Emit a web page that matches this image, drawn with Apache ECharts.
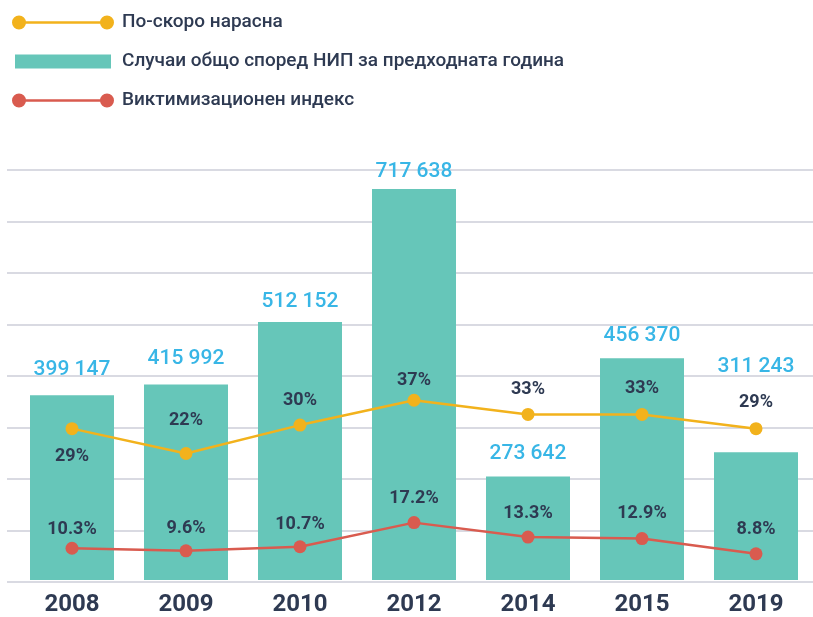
<!DOCTYPE html>
<html>
<head>
<meta charset="utf-8">
<script src="https://cdn.jsdelivr.net/npm/echarts@6/dist/echarts.min.js"></script>
<style>html,body{margin:0;padding:0;background:#fff}#c{width:813px;height:617px}</style>
</head>
<body>
<div id="c"></div>
<script>
var years = ['2008', '2009', '2010', '2012', '2014', '2015', '2019'];
var cases = [399147, 415992, 512152, 717638, 273642, 456370, 311243];
var growth = [29, 22, 30, 37, 33, 33, 29];
var victim = [10.3, 9.6, 10.7, 17.2, 13.3, 12.9, 8.8];
var seriesNames = ['По-скоро нараснa'.replace('a', 'а'), 'Случаи общо според НИП за предходната година', 'Виктимизационен индекс'];

// label placement (style only)
var barLabelGap = [15.5, 15.5, 10, 7, 12, 11.5, 74.5];
var growthLabelGap = [12.5, 17.5, 9.5, 4, 9.5, 10.5, 10.5];
var victimLabelGap = [3.5, 7, 7, 9, 8, 9.5, 8.5];

var FONT = 'Roboto, "DejaVu Sans Condensed", sans-serif';
var DARK = '#2e3a52';
var YEL = '#f2b21c';
var RED = '#d95b4f';
var TEAL = '#66c6b9';
var BLUE = '#38b6e6';

function fmtThousands(v) {
  return String(v).replace(/\B(?=(\d{3})+(?!\d))/g, ' ');
}

var lineIcon = 'path://M0,7 A7,7 0 1,1 14,7 A7,7 0 1,1 0,7 Z M88,7 A7,7 0 1,1 102,7 A7,7 0 1,1 88,7 Z M7,5.8 L95,5.8 L95,8.2 L7,8.2 Z';

var barData = cases.map(function (v, i) {
  return { value: v, label: { distance: barLabelGap[i] } };
});
var growthData = growth.map(function (v, i) {
  var d = { value: v, label: { distance: growthLabelGap[i] } };
  if (i === 0) d.label.position = 'bottom';
  return d;
});
var victimData = victim.map(function (v, i) {
  return { value: v, label: { distance: victimLabelGap[i] } };
});

var chart = echarts.init(document.getElementById('c'));
chart.setOption({
  animation: false,
  textStyle: { fontFamily: FONT },
  legend: {
    orient: 'vertical',
    left: 7,
    top: 8,
    padding: [5, 5, 5, 5],
    itemGap: 20,
    itemWidth: 102,
    itemHeight: 14,
    selectedMode: false,
    textStyle: { fontFamily: FONT, fontSize: 19, color: DARK, fontWeight: 500, padding: [0, 0, 0, 3] },
    data: [
      { name: seriesNames[0], icon: lineIcon },
      { name: seriesNames[1], icon: 'path://M1,0 L97,0 L97,14 L1,14 Z' },
      { name: seriesNames[2], icon: lineIcon }
    ]
  },
  grid: [
    { left: 7, right: 0, top: 170, height: 412 },
    { left: 15, width: 799, top: 170, height: 412 }
  ],
  xAxis: [
    { gridIndex: 0, type: 'value', min: 0, max: 1, show: false },
    {
      gridIndex: 1, type: 'category', data: years,
      axisLine: { show: false }, axisTick: { show: false },
      axisLabel: { fontFamily: FONT, fontSize: 24, fontWeight: 'bold', color: DARK, margin: 13 }
    }
  ],
  yAxis: [
    {
      gridIndex: 0, type: 'value', min: 0, max: 8, interval: 1,
      axisLine: { show: false }, axisTick: { show: false }, axisLabel: { show: false },
      splitLine: { show: true, lineStyle: { color: '#ccced9', width: 1.5 } }
    },
    { gridIndex: 1, type: 'value', min: 114000, max: 747000, show: false, splitLine: { show: false } },
    { gridIndex: 1, type: 'value', min: -13.6, max: 101.8, show: false, splitLine: { show: false } },
    { gridIndex: 1, type: 'value', min: 1.74, max: 112.2, show: false, splitLine: { show: false } }
  ],
  series: [
    {
      name: seriesNames[1], type: 'bar', xAxisIndex: 1, yAxisIndex: 1,
      data: barData, barWidth: 84, itemStyle: { color: TEAL },
      label: {
        show: true, position: 'top',
        fontFamily: FONT, fontSize: 21, fontWeight: 500, color: BLUE,
        formatter: function (p) { return fmtThousands(p.value); }
      },
      z: 1
    },
    {
      name: seriesNames[0], type: 'line', xAxisIndex: 1, yAxisIndex: 2,
      data: growthData, symbol: 'circle', symbolSize: 13,
      itemStyle: { color: YEL }, lineStyle: { color: YEL, width: 2.5 },
      label: {
        show: true, position: 'top',
        fontFamily: FONT, fontSize: 18, fontWeight: 'bold', color: DARK,
        formatter: function (p) { return p.value + '%'; }
      },
      z: 3
    },
    {
      name: seriesNames[2], type: 'line', xAxisIndex: 1, yAxisIndex: 3,
      data: victimData, symbol: 'circle', symbolSize: 13,
      itemStyle: { color: RED }, lineStyle: { color: RED, width: 2.5 },
      label: {
        show: true, position: 'top',
        fontFamily: FONT, fontSize: 18, fontWeight: 'bold', color: DARK,
        formatter: function (p) { return p.value.toFixed(1) + '%'; }
      },
      z: 3
    }
  ]
});
</script>
</body>
</html>
